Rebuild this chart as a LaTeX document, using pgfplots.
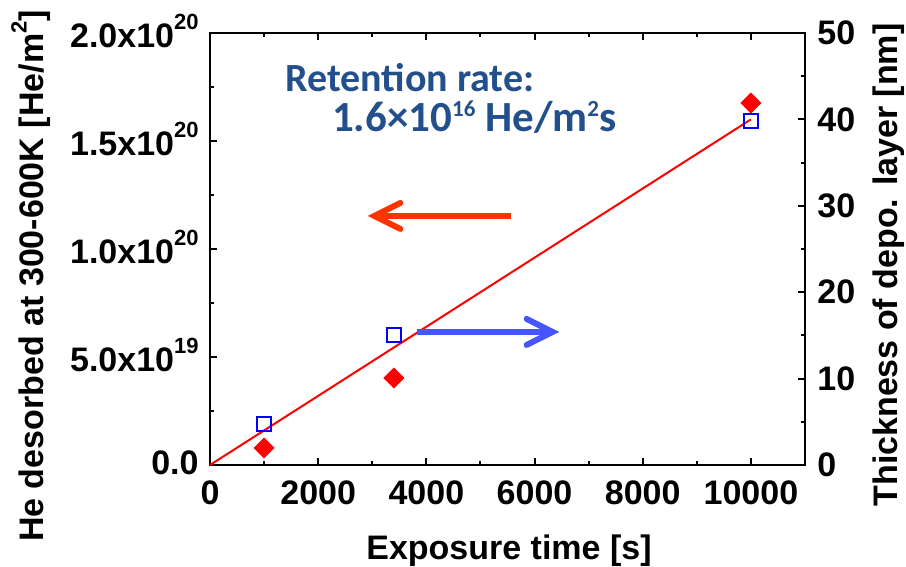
\documentclass[border=0pt]{standalone}
\usepackage{fontspec}
\setmainfont{Liberation Sans}
\newfontfamily\calibri{Carlito}
\usepackage{pgfplots}
\pgfplotsset{compat=1.18}
\usetikzlibrary{arrows.meta}
\definecolor{annblue}{RGB}{35,80,140}
\definecolor{arrred}{RGB}{255,51,0}
\definecolor{arrblue}{RGB}{70,85,255}
\newcommand\sups[1]{\raisebox{8.8pt}{\fontsize{11}{11}\selectfont #1}}
\newcommand\lsup[1]{\raisebox{8.5pt}{\fontsize{11}{11}\selectfont #1}}
\newcommand\asup[1]{\raisebox{7.3pt}{\fontsize{11.5}{11.5}\selectfont #1}}
\newcommand\ticksize{\fontsize{17}{17}\selectfont\bfseries}
\newcommand\labsize{\fontsize{17}{17}\selectfont\bfseries}
\pgfplotsset{
  common/.style={
    scale only axis, width=297.5pt, height=216pt,
    xmin=0, xmax=11000,
    tick align=inside,
    major tick length=3.5pt, minor tick length=2pt,
    every tick/.style={black, line width=1pt},
    axis line style={line width=1.3pt},
    tick label style={font=\ticksize},
    scaled ticks=false,
  }
}
\begin{document}
\begin{tikzpicture}
\useasboundingbox (-105pt,-51pt) rectangle (348pt,232.5pt);
\begin{axis}[common,
  at={(0,0)}, anchor=south west,
  ymin=0, ymax=2e20,
  xtick={0,2000,4000,6000,8000,10000},
  xticklabels={0,2000,4000,6000,8000,10000},
  minor xtick={1000,3000,5000,7000,9000},
  ytick={0,5e19,1e20,1.5e20,2e20},
  yticklabels={0.0,{5.0x10\sups{19}},{1.0x10\sups{20}},{1.5x10\sups{20}},{2.0x10\sups{20}}},
  minor ytick={2.5e19,7.5e19,1.25e20,1.75e20},
  xtick pos=both, ytick pos=left,
  yticklabel style={inner sep=1pt, xshift=-4.5pt, yshift=1pt},
  xticklabel style={inner sep=1pt, yshift=-6.5pt},
  xlabel={Exposure time [s]},
  ylabel={He desorbed at 300-600K [He/m\lsup{2}]},
  every axis x label/.style={at={(axis description cs:0.5025,-0.199)}, anchor=center, font=\labsize, inner sep=0pt},
  every axis y label/.style={at={(axis description cs:-0.301,0.4375)}, rotate=90, anchor=center, font=\labsize, inner sep=0pt},
  clip=false,
]
\addplot[red, line width=1pt] coordinates {(0,0) (10000,1.6e20)};
\addplot[only marks, mark=square*, mark options={rotate=45}, red, mark size=3.5pt] coordinates {(1000,7.9e18) (3400,4.03e19) (10000,1.676e20)};
\draw[arrred, line width=3pt, -{Straight Barb[length=13pt, width=13pt, line cap=round]}] (axis cs:5572,1.153e20) -- (axis cs:2915,1.153e20);
\draw[arrblue, line width=3pt, -{Straight Barb[length=13pt, width=13pt, line cap=round]}] (axis cs:3819,6.16e19) -- (axis cs:6458,6.16e19);
\node[anchor=base west, inner sep=0, text=annblue, font=\calibri\bfseries\fontsize{20}{20}\selectfont] at (axis cs:1384,1.731e20) {Retention rate:};
\node[anchor=base west, inner sep=0, text=annblue, font=\calibri\bfseries\fontsize{21.5}{21.5}\selectfont] at (axis cs:2251,1.546e20) {1.6×10\asup{16} He/m\asup{2}s};
\end{axis}
\begin{axis}[common,
  at={(0,0)}, anchor=south west,
  ymin=0, ymax=50,
  axis x line=none, axis y line*=right,
  ytick={0,10,20,30,40,50},
  yticklabels={0,10,20,30,40,50},
  minor ytick={5,15,25,35,45},
  ytick pos=right,
  yticklabel style={inner sep=1pt, xshift=5pt},
  ylabel={Thickness of depo. layer [nm]},
  every axis y label/.style={at={(axis description cs:1.141,0.463)}, rotate=90, anchor=center, font=\labsize, inner sep=0pt},
  clip=false,
]
\addplot[only marks, mark=square, blue, mark size=3.5pt, line width=1pt] coordinates {(1000,4.8) (3400,15) (10000,39.8)};
\end{axis}
\end{tikzpicture}
\end{document}
